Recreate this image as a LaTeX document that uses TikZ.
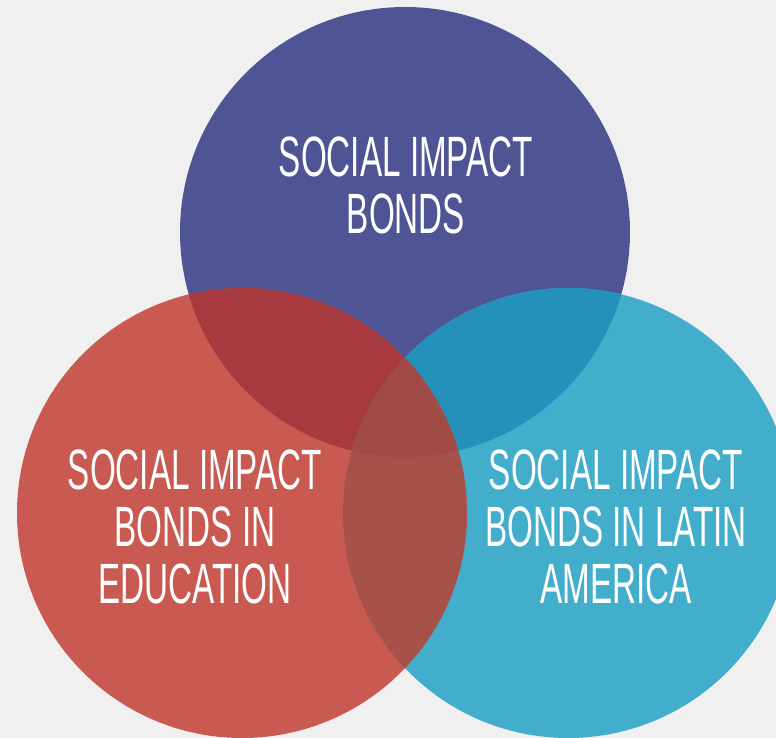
\documentclass[tikz,border=0pt]{standalone}
\usepackage{fontspec}
\setmainfont[FakeStretch=0.585]{Liberation Sans}
\definecolor{backgray}{HTML}{F0F0F0}
\definecolor{sibpurple}{HTML}{4F5594}
\definecolor{sibred}{HTML}{C85A52}
\definecolor{sibblue}{HTML}{42AECB}
\definecolor{purplered}{HTML}{A63A3F}
\definecolor{purpleblue}{HTML}{2591BB}
\definecolor{redblue}{HTML}{A65149}
\definecolor{allthree}{HTML}{A14B47}

\begin{document}
\begin{tikzpicture}
  [x=0.03cm, y=-0.03cm,
    bondtext/.style={text=white, align=center, inner sep=0pt,
      font=\fontsize{48.5pt}{48.6pt}\selectfont}
  ]

  \fill[backgray] (0,0) rectangle (776,738);
  \clip (0,0) rectangle (776,738);

  \coordinate (sib) at (405,232);
  \coordinate (edu) at (242,513);
  \coordinate (lat) at (568,513);

  % the three circles
  \fill[sibpurple] (sib) circle [radius=225];
  \fill[sibblue]   (lat) circle [radius=225];
  \fill[sibred]    (edu) circle [radius=225];

  % overlaps
  \begin{scope}
    \clip (sib) circle [radius=225];
    \fill[purplered]  (edu) circle [radius=225];
    \fill[purpleblue] (lat) circle [radius=225];
  \end{scope}
  \begin{scope}
    \clip (edu) circle [radius=225];
    \fill[redblue] (lat) circle [radius=225];
    \clip (lat) circle [radius=225];
    \fill[allthree] (sib) circle [radius=225];
  \end{scope}

  \node[bondtext] (sibText) at (406,185) {SOCIAL IMPACT\\BONDS};
  \node[bondtext] (eduText) at (195,527) {SOCIAL IMPACT\\BONDS IN\\EDUCATION};
  \node[bondtext] (latText) at (616,527) {SOCIAL IMPACT\\BONDS IN LATIN\\AMERICA};

\end{tikzpicture}
\end{document}
